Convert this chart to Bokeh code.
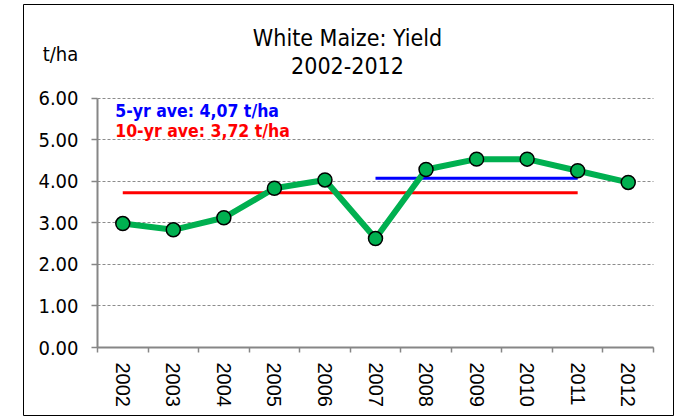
from bokeh.plotting import figure
from bokeh.models import Range1d, FixedTicker, Label, PrintfTickFormatter
from bokeh.embed import file_html
from bokeh.resources import INLINE
from bokeh.core.properties import value

# ---- data ----
years = ["2002", "2003", "2004", "2005", "2006", "2007", "2008", "2009", "2010", "2011", "2012"]
yield_t_ha = [2.98, 2.83, 3.12, 3.83, 4.03, 2.62, 4.28, 4.53, 4.53, 4.25, 3.97]
ave_5yr = 4.07
ave_5yr_years = ["2007", "2011"]
ave_10yr = 3.72
ave_10yr_years = ["2002", "2011"]
y_ticks = [0, 1, 2, 3, 4, 5, 6]

title_lines = ["White Maize: Yield", "2002-2012"]
unit_label = "t/ha"
ave_5yr_text = "5-yr ave: 4,07 t/ha"
ave_10yr_text = "10-yr ave: 3,72 t/ha"

FONT = "DejaVu Sans Condensed"

# ---- layout (pixels, relative to the canvas) ----
W, H = 652, 413
FRAME_L, FRAME_R, FRAME_T, FRAME_B = 1, 651, 1, 412   # outer chart box
AX_L, AX_R = 75, 631        # x-axis span (category band)
AX_T, AX_B = 94.5, 344      # y = 6 .. y = 0
n = len(years)
ymax = y_ticks[-1]
ux = (AX_R - AX_L) / n
uy = (AX_B - AX_T) / ymax

def dx(px):
    return (px - AX_L) / ux

def dy(py):
    return (AX_B - py) / uy

xpos = [i + 0.5 for i in range(n)]
def xc(yr):
    return years.index(yr) + 0.5

p = figure(width=W, height=H, output_backend="svg", toolbar_location=None,
           x_range=Range1d(dx(FRAME_L), dx(FRAME_R)),
           y_range=Range1d(dy(FRAME_B), dy(FRAME_T)),
           min_border_left=FRAME_L, min_border_right=W - FRAME_R,
           min_border_top=FRAME_T, min_border_bottom=H - FRAME_B)
p.margin = (3, 0, 0, 22)
p.outline_line_color = "black"
p.outline_line_width = 1

# grid
p.xgrid.grid_line_color = None
p.ygrid.grid_line_color = "#8c8c8c"
p.ygrid.grid_line_dash = "3 2"
p.ygrid.grid_line_width = 1
p.ygrid.cross_bounds = (0, n)

# x axis: labels at centres, ticks at boundaries
p.xaxis.fixed_location = 0
p.xaxis.bounds = (0, n)
p.xaxis.ticker = FixedTicker(ticks=xpos, minor_ticks=list(range(n + 1)))
p.xaxis.major_label_overrides = {x: y for x, y in zip(xpos, years)}
p.xaxis.major_label_orientation = "vertical"
p.xaxis.major_tick_out = 0
p.xaxis.major_tick_in = 0
p.xaxis.minor_tick_out = 5
p.xaxis.minor_tick_in = 0
p.xaxis.minor_tick_line_color = "#868686"
p.xaxis.minor_tick_line_width = 1.5
p.xaxis.axis_line_color = "#868686"
p.xaxis.axis_line_width = 2
p.xaxis.major_label_text_font = "Liberation Sans"
p.xaxis.major_label_text_font_size = "20px"
p.xaxis.major_label_text_color = "black"
p.xaxis.major_label_standoff = 10

# y axis
p.yaxis.fixed_location = 0
p.yaxis.bounds = (0, ymax)
p.yaxis.ticker = FixedTicker(ticks=y_ticks)
p.yaxis.formatter = PrintfTickFormatter(format="%.2f")
p.yaxis.major_tick_out = 6
p.yaxis.major_tick_in = 0
p.yaxis.minor_tick_line_color = None
p.yaxis.major_tick_line_color = "#868686"
p.yaxis.major_tick_line_width = 1.5
p.yaxis.axis_line_color = "#868686"
p.yaxis.axis_line_width = 2
p.yaxis.major_label_text_font = FONT
p.yaxis.major_label_text_font_size = "20px"
p.yaxis.major_label_text_color = "black"
p.yaxis.major_label_standoff = 13

# average lines
p.line([xc(ave_10yr_years[0]), xc(ave_10yr_years[1])], [ave_10yr, ave_10yr],
       line_color="#ff0000", line_width=3)
p.line([xc(ave_5yr_years[0]), xc(ave_5yr_years[1])], [ave_5yr, ave_5yr],
       line_color="#0000ff", line_width=3)

# series
p.line(xpos, yield_t_ha, line_color="#00b050", line_width=6, line_join="round")
p.scatter(xpos, yield_t_ha, size=14, fill_color="#00b050", line_color="black", line_width=1.5)

# title, unit and average annotations
p.add_layout(Label(x=dx(325), y=dy(34), text=title_lines[0], text_align="center",
                   text_baseline="middle", text_font=FONT, text_font_size="23px",
                   text_color="black"))
p.add_layout(Label(x=dx(325), y=dy(61.5), text=title_lines[1], text_align="center",
                   text_baseline="middle", text_font=FONT, text_font_size="23px",
                   text_color="black"))
p.add_layout(Label(x=dx(38), y=dy(50), text=unit_label, text_align="center",
                   text_baseline="middle", text_font=FONT, text_font_size="20px",
                   text_color="black"))
p.add_layout(Label(x=0.35, y=5.69, text=ave_5yr_text, text_align="left",
                   text_baseline="middle", text_font=FONT, text_font_size="17.5px",
                   text_font_style="bold", text_color="#0000ff"))
p.add_layout(Label(x=0.35, y=5.21, text=ave_10yr_text, text_align="left",
                   text_baseline="middle", text_font=FONT, text_font_size="17.5px",
                   text_font_style="bold", text_color="#ff0000"))

open("out.html", "w").write(file_html(p, INLINE))
